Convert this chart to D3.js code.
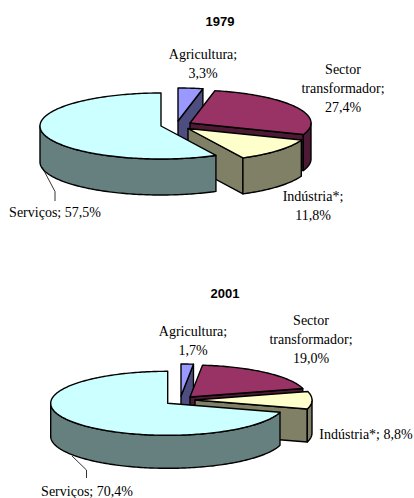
<!DOCTYPE html>
<html><head><meta charset="utf-8">
<script src="https://d3js.org/d3.v7.min.js"></script>
<style>html,body{margin:0;padding:0;background:#fff}svg{display:block}</style>
</head><body><svg id="c" width="414" height="498"></svg>
<script>
const categories = ["Agricultura", "Sector transformador", "Indústria*", "Serviços"];
const values1979 = [3.3, 27.4, 11.8, 57.5];
const values2001 = [1.7, 19.0, 8.8, 70.4];
const topColors = ["#9999FF", "#993366", "#FFFFCC", "#CCFFFF"];
const sideColors = ["#4D4D80", "#4D1A33", "#808066", "#668080"];

const charts = [
  { title: "1979", values: values1979, tx: 220, ty: 26, rx: 121, ry: 33, depth: 36,
    apex: [[178,121],[190,123],[188,128.5],[161,126]],
    leader: [[42,167],[55,191.5],[55,201]],
    labels: [
      {lines:["Agricultura;","3,3%"], x:203, y:[59,78]},
      {lines:["Sector","transformador;","27,4%"], x:343, y:[74,93,112]},
      {lines:["Indústria*;","11,8%"], x:313, y:[201,220]},
      {lines:["Serviços; 57,5%"], x:55, y:[217]}
    ]},
  { title: "2001", values: values2001, tx: 225, ty: 298, rx: 117, ry: 32, depth: 33,
    apex: [[181,396],[190,397],[195,400],[167.7,403.3]],
    leader: [[72,456],[86.5,470],[86.5,478]],
    labels: [
      {lines:["Agricultura;","1,7%"], x:193, y:[336,355]},
      {lines:["Sector","transformador;","19,0%"], x:311, y:[325,344,363]},
      {lines:["Indústria*; 8,8%"], x:366, y:[439]},
      {lines:["Serviços; 70,4%"], x:87, y:[496]}
    ]}
];

const svg = d3.select("#c");
const pie = d3.pie().sort(null).startAngle(0).endAngle(2*Math.PI);
const STROKE = {stroke:"#000", w:1.4};

function style(sel, fill){
  return sel.attr("fill", fill).attr("stroke", STROKE.stroke)
    .attr("stroke-width", STROKE.w).attr("stroke-linejoin","round");
}
function arcPts(c, a0, a1, dy){
  const n = Math.max(2, Math.ceil((a1-a0)/0.02));
  return d3.range(n+1).map(i=>{
    const a = a0+(a1-a0)*i/n;
    return [c.ax + c.rx*Math.sin(a), c.ay - c.ry*Math.cos(a) + dy];
  });
}
const line = d3.line();

charts.forEach(ch=>{
  svg.append("text").text(ch.title).attr("x",ch.tx).attr("y",ch.ty)
    .attr("text-anchor","middle").attr("font-family","Liberation Sans, Arial, sans-serif")
    .attr("font-weight","bold").attr("font-size",13).attr("fill","#000");

  const arcs = pie(ch.values);
  arcs.forEach((d,i)=>{
    const c = {ax:ch.apex[i][0], ay:ch.apex[i][1], rx:ch.rx, ry:ch.ry};
    const g = svg.append("g");
    const a0=d.startAngle, a1=d.endAngle;
    [a0,a1].forEach((a,k)=>{
      const front = k===1 ? Math.sin(a)>0 : Math.sin(a)<0;
      if(!front) return;
      const e = arcPts(c,a,a,0)[0];
      const p = [[c.ax,c.ay],e,[e[0],e[1]+ch.depth],[c.ax,c.ay+ch.depth]];
      style(g.append("path").attr("d",line(p)+"Z"), sideColors[i]);
    });
    const w0=Math.max(a0,Math.PI/2), w1=Math.min(a1,3*Math.PI/2);
    if(w1>w0){
      const topEdge=arcPts(c,w0,w1,0), botEdge=arcPts(c,w0,w1,ch.depth).reverse();
      style(g.append("path").attr("d",line(topEdge.concat(botEdge))+"Z"), sideColors[i]);
    }
    const p=[[c.ax,c.ay]].concat(arcPts(c,a0,a1,0));
    style(g.append("path").attr("d",line(p)+"Z"), topColors[i]);
  });

  svg.append("path").attr("d",line(ch.leader)).attr("fill","none")
    .attr("stroke","#000").attr("stroke-width",0.8);

  ch.labels.forEach(l=>{
    l.lines.forEach((t,k)=>{
      svg.append("text").text(t).attr("x",l.x).attr("y",l.y[k])
        .attr("text-anchor","middle").attr("font-family","Liberation Serif, Times New Roman, serif")
        .attr("font-size",14).attr("fill","#000");
    });
  });
});
</script></body></html>
